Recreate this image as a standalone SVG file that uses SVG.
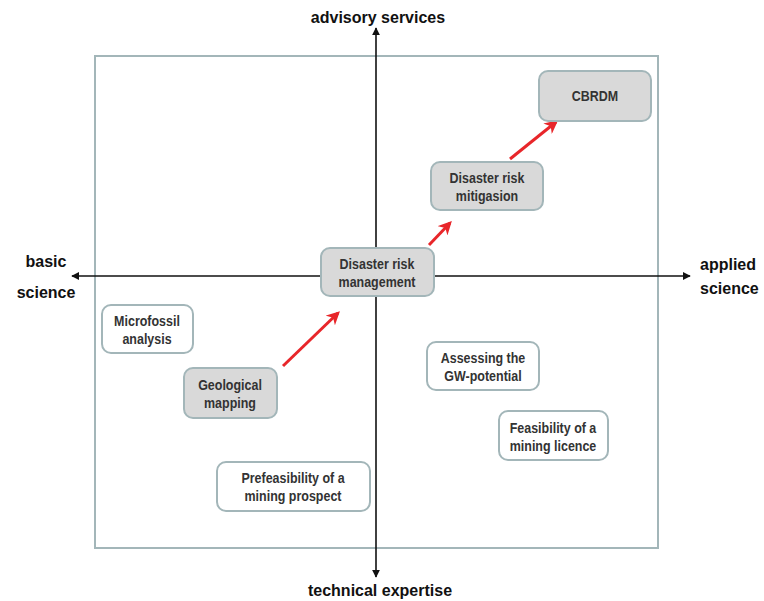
<svg xmlns="http://www.w3.org/2000/svg" width="764" height="601" viewBox="0 0 764 601">
<defs>
<style>
.frame{fill:none;stroke:#a3b6b9;stroke-width:2}
.axis{stroke:#111;stroke-width:1.6;fill:none}
.red{stroke:#e8262a;stroke-width:3;fill:none}
.g{fill:#d9d9d9;stroke:#a3b6b9;stroke-width:2}
.w{fill:#fff;stroke:#a3b6b9;stroke-width:2}
.t{font-family:"Liberation Sans",Arial,sans-serif;font-weight:bold;font-size:14.5px;fill:#333;text-anchor:middle}
.ax{font-family:"Liberation Sans",Arial,sans-serif;font-weight:bold;font-size:16px;fill:#111}
</style>
<marker id="ah" viewBox="0 0 10 10" refX="9" refY="5" markerWidth="5" markerHeight="5" orient="auto" markerUnits="strokeWidth"><path d="M0,0L10,5L0,10z" fill="#111"/></marker>
<marker id="rh" viewBox="0 0 10 10" refX="8" refY="5" markerWidth="4.5" markerHeight="4.5" orient="auto" markerUnits="strokeWidth"><path d="M0,0L10,5L0,10L3,5z" fill="#e8262a"/></marker>
</defs>
<rect width="764" height="601" fill="#fff"/>
<rect class="frame" x="95" y="56" width="563" height="492"/>
<g id="connectors">
<line class="axis" x1="376" y1="276" x2="376" y2="28" marker-end="url(#ah)"/>
<line class="axis" x1="376" y1="276" x2="376" y2="577" marker-end="url(#ah)"/>
<line class="axis" x1="376" y1="276" x2="72" y2="276" marker-end="url(#ah)"/>
<line class="axis" x1="376" y1="276" x2="690" y2="276" marker-end="url(#ah)"/>
<line class="red" x1="283" y1="366" x2="338" y2="313" marker-end="url(#rh)"/>
<line class="red" x1="429" y1="245" x2="450" y2="223" marker-end="url(#rh)"/>
<line class="red" x1="510" y1="159" x2="556" y2="122" marker-end="url(#rh)"/>
</g>
<g id="labels">
<text class="ax" x="378" y="23" text-anchor="middle">advisory services</text>
<text class="ax" x="380" y="596" text-anchor="middle">technical expertise</text>
<text class="ax" x="46" y="267" text-anchor="middle">basic</text>
<text class="ax" x="46" y="298" text-anchor="middle">science</text>
<text class="ax" x="700" y="270">applied</text>
<text class="ax" x="700" y="294">science</text>
</g>
<g id="cbrdm"><rect class="g" x="539" y="71" width="112" height="50" rx="9"/><text class="t" transform="translate(595,0) scale(0.86,1)" y="101">CBRDM</text></g>
<g id="mitigasion"><rect class="g" x="431" y="162" width="112" height="48" rx="9"/><text class="t" transform="translate(487,0) scale(0.86,1)" y="183">Disaster risk</text><text class="t" transform="translate(487,0) scale(0.86,1)" y="201">mitigasion</text></g>
<g id="management"><rect class="g" x="321" y="248" width="113" height="48" rx="9"/><text class="t" transform="translate(377,0) scale(0.86,1)" y="269">Disaster risk</text><text class="t" transform="translate(377,0) scale(0.86,1)" y="287">management</text></g>
<g id="microfossil"><rect class="w" x="102" y="305" width="91" height="48" rx="9"/><text class="t" transform="translate(147,0) scale(0.86,1)" y="326">Microfossil</text><text class="t" transform="translate(147,0) scale(0.86,1)" y="344">analysis</text></g>
<g id="geological"><rect class="g" x="184" y="368" width="93" height="50" rx="9"/><text class="t" transform="translate(230,0) scale(0.86,1)" y="390">Geological</text><text class="t" transform="translate(230,0) scale(0.86,1)" y="408">mapping</text></g>
<g id="gw"><rect class="w" x="427" y="342" width="112" height="48" rx="9"/><text class="t" transform="translate(483,0) scale(0.86,1)" y="363">Assessing the</text><text class="t" transform="translate(483,0) scale(0.86,1)" y="381">GW-potential</text></g>
<g id="licence"><rect class="w" x="499" y="411" width="109" height="49" rx="9"/><text class="t" transform="translate(553,0) scale(0.86,1)" y="433">Feasibility of a</text><text class="t" transform="translate(553,0) scale(0.86,1)" y="451">mining licence</text></g>
<g id="prospect"><rect class="w" x="217" y="462" width="153" height="49" rx="9"/><text class="t" transform="translate(293,0) scale(0.86,1)" y="483">Prefeasibility of a</text><text class="t" transform="translate(293,0) scale(0.86,1)" y="501">mining prospect</text></g>
</svg>
